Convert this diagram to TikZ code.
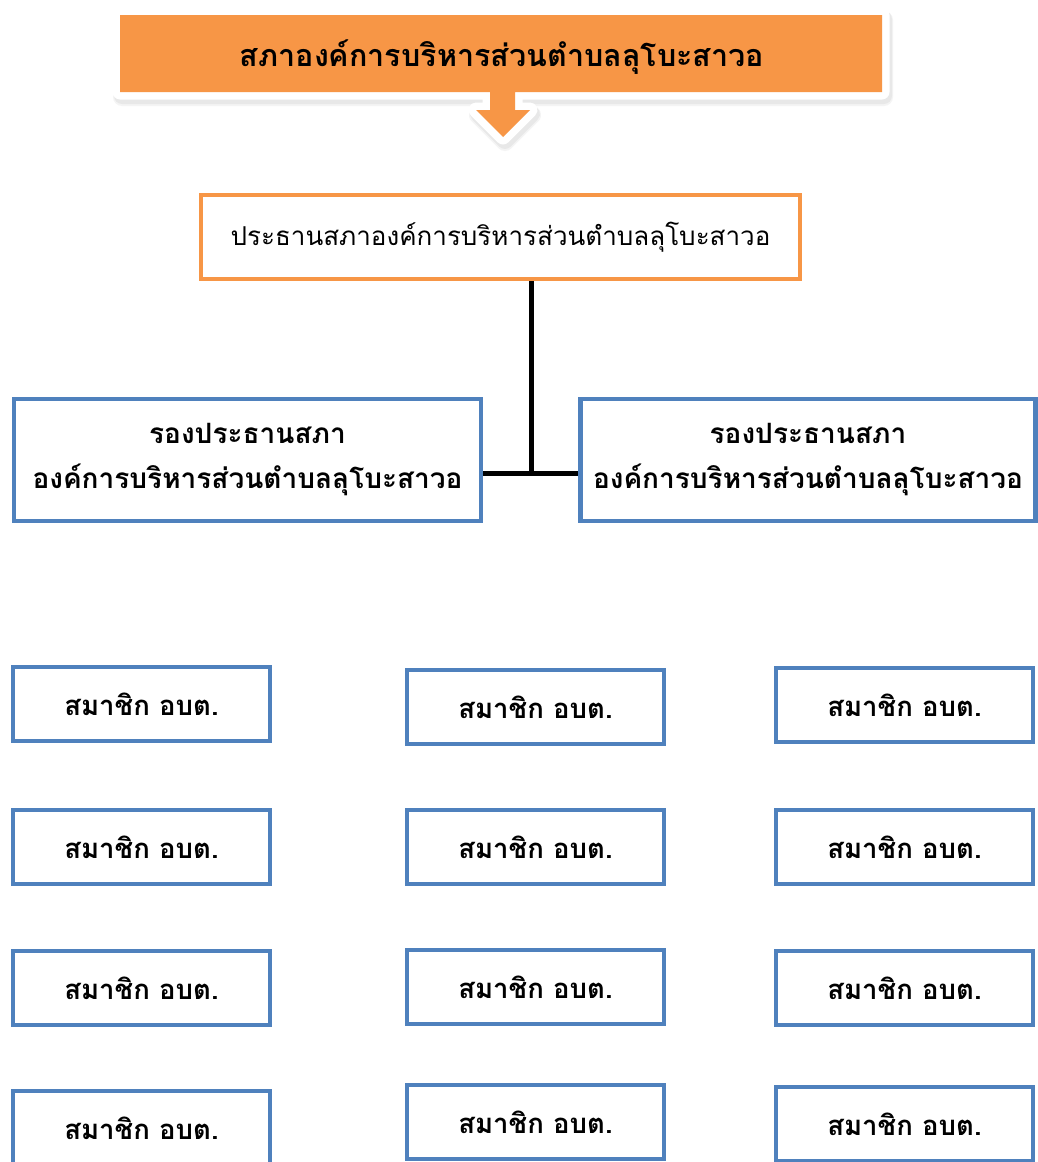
\documentclass[tikz,border=0pt]{standalone}
\usepackage{fontspec}
\newfontfamily\thai[Script=Thai]{Loma}
\definecolor{ora}{HTML}{F79646}
\definecolor{blu}{HTML}{4F81BD}
\begin{document}
\begin{tikzpicture}[x=1pt,y=-1pt,
  box/.style={draw=blu,line width=4.5pt,fill=white,inner sep=0pt,anchor=center,align=center},
  chairbox/.style={draw=ora,line width=4pt,fill=white,inner sep=0pt,font=\thai\fontsize{26}{30}\selectfont},
  vicebox/.style={box,minimum height=122pt,font=\thai\bfseries\fontsize{28}{45}\selectfont},
  membox/.style={box,minimum width=257pt,minimum height=74pt,font=\thai\bfseries\fontsize{27.5}{32}\selectfont},
  conn/.style={line width=5pt,black}]
\useasboundingbox (0,0) rectangle (1038,1162);
\fill[white] (0,0) rectangle (1038,1162);
% banner with arrow
\def\bannerpath{(120,15) -- (882,15) -- (882,92) -- (515,92) -- (515,110) -- (530,110) -- (503,137) -- (476,110) -- (490,110) -- (490,92) -- (120,92) -- cycle}
\draw[black!15,line width=16pt,line join=round,opacity=0.5,shift={(2,4)}] \bannerpath;
\draw[black!10,line width=18pt,line join=round,opacity=0.4,shift={(2,5)}] \bannerpath;
\draw[white,line width=15pt,line join=round] \bannerpath;
\fill[ora] \bannerpath;
\node[font=\thai\bfseries\fontsize{30.5}{34}\selectfont] (banner) at (502,57) {สภาองค์การบริหารส่วนตำบลลุโบะสาวอ};
% chairman
\node[chairbox,minimum width=599pt,minimum height=84pt] (chair) at (500.5,237) {ประธานสภาองค์การบริหารส่วนตำบลลุโบะสาวอ};
% vice chairmen
\node[vicebox,minimum width=467pt] (vl) at (247.5,460) {\raisebox{-4pt}{รองประธานสภา}\\\raisebox{-4pt}{องค์การบริหารส่วนตำบลลุโบะสาวอ}};
\node[vicebox,minimum width=455pt] (vr) at (808,460) {\raisebox{-4pt}{รองประธานสภา}\\\raisebox{-4pt}{องค์การบริหารส่วนตำบลลุโบะสาวอ}};
\coordinate (j) at (531,473);
\draw[conn] (chair.south -| j) -- (j);
\draw[conn] (vl.east |- j) -- (vr.west |- j);
% members
\node[membox] (m11) at (141.5,704) {สมาชิก อบต.};
\node[membox] (m12) at (535.5,707) {สมาชิก อบต.};
\node[membox] (m13) at (904.5,705) {สมาชิก อบต.};
\node[membox] (m21) at (141.5,847) {สมาชิก อบต.};
\node[membox] (m22) at (535.5,847) {สมาชิก อบต.};
\node[membox] (m23) at (904.5,847) {สมาชิก อบต.};
\node[membox] (m31) at (141.5,988) {สมาชิก อบต.};
\node[membox] (m32) at (535.5,987) {สมาชิก อบต.};
\node[membox] (m33) at (904.5,988) {สมาชิก อบต.};
\node[membox] (m41) at (141.5,1128) {สมาชิก อบต.};
\node[membox] (m42) at (535.5,1122) {สมาชิก อบต.};
\node[membox] (m43) at (904.5,1124) {สมาชิก อบต.};
\end{tikzpicture}
\end{document}
